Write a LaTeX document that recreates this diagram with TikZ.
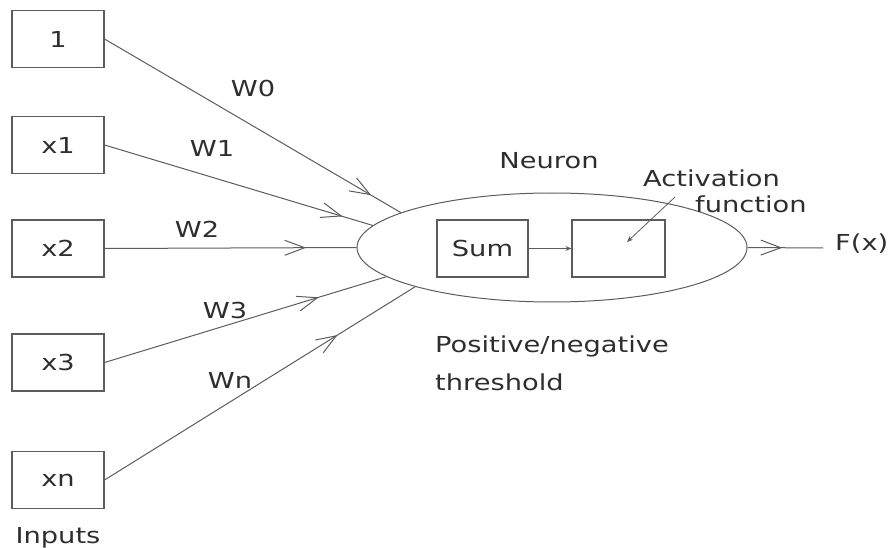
\documentclass[tikz,border=0pt]{standalone}
\usepackage{fontspec}
\setmainfont{DejaVu Sans}[FakeStretch=1.24]
\usetikzlibrary{arrows.meta,decorations.markings,shapes.geometric}
\definecolor{ink}{HTML}{2E2E2E}
\definecolor{linegray}{HTML}{5C5C5C}

\begin{document}
\begin{tikzpicture}[x=1pt,y=-1pt,font=\fontsize{22}{26}\selectfont,text=ink,
  link/.style={draw=linegray,line width=1pt},
  inbox/.style={draw=linegray,line width=1.1pt,minimum width=92pt,minimum height=57pt,inner sep=0pt},
  midarrow/.style={postaction={decorate},decoration={markings,
    mark=at position #1 with {\arrow{Straight Barb[length=20pt,width=15pt]}}}},
  smalltip/.style={-{Stealth[length=6pt,width=5pt]}}]
  \useasboundingbox (0,0) rectangle (891,548);

  % inputs
  \node[inbox] (in0) at (58,39) {1};
  \node[inbox] (in1) at (58,145) {x1};
  \node[inbox] (in2) at (58,248.5) {x2};
  \node[inbox] (in3) at (58,362.5) {x3};
  \node[inbox] (inn) at (58,480) {xn};
  \node[anchor=base] (inputs) at (58,543) {Inputs};

  % neuron body
  \node[draw=linegray,line width=1pt,ellipse,minimum width=390pt,minimum height=109pt,inner sep=0pt]
    (neuron) at (552,247.5) {};
  \node[anchor=base] (neuronlbl) at (549,169) {Neuron};
  \node[inbox,minimum width=91pt] (sum) at (482.5,248.5) {Sum};
  \node[inbox,minimum width=93pt] (act) at (618.5,248.5) {};
  \draw[link,smalltip] (sum) -- (act);

  % weighted connections
  \draw[link,midarrow=0.9] (in0.east) -- (neuron.167);
  \draw[link,midarrow=0.887] (in1.east) -- (neuron.173);
  \draw[link,midarrow=0.8] (in2.east) -- (neuron.180);
  \draw[link,midarrow=0.76] (in3.east) -- (neuron.190);
  \draw[link,midarrow=0.75] (inn.east) -- (neuron.196);
  \node[anchor=base] (w0) at (253,97) {W0};
  \node[anchor=base] (w1) at (212,157) {W1};
  \node[anchor=base] (w2) at (197,237) {W2};
  \node[anchor=base] (w3) at (225,318) {W3};
  \node[anchor=base] (wn) at (230,388) {Wn};

  % activation label
  \node[anchor=base west,inner sep=0pt] (actlbl) at (643,187) {Activation};
  \node[anchor=base west,inner sep=0pt] (funclbl) at (695,212) {function};
  \coordinate (ptrfrom) at (675,197);
  \coordinate (ptrto) at (627,242);
  \draw[link,line width=0.8pt,smalltip] (ptrfrom) -- (ptrto);

  % threshold
  \node[anchor=base west,inner sep=0pt] (poslbl) at (435,352) {Positive/negative};
  \node[anchor=base west,inner sep=0pt] (thrlbl) at (435,390) {threshold};

  % output
  \coordinate (out) at (823,248);
  \draw[link,midarrow=0.46] (neuron.east) -- (out);
  \node[anchor=base west,inner sep=0pt] (fx) at (835,250) {F(x)};
\end{tikzpicture}
\end{document}
